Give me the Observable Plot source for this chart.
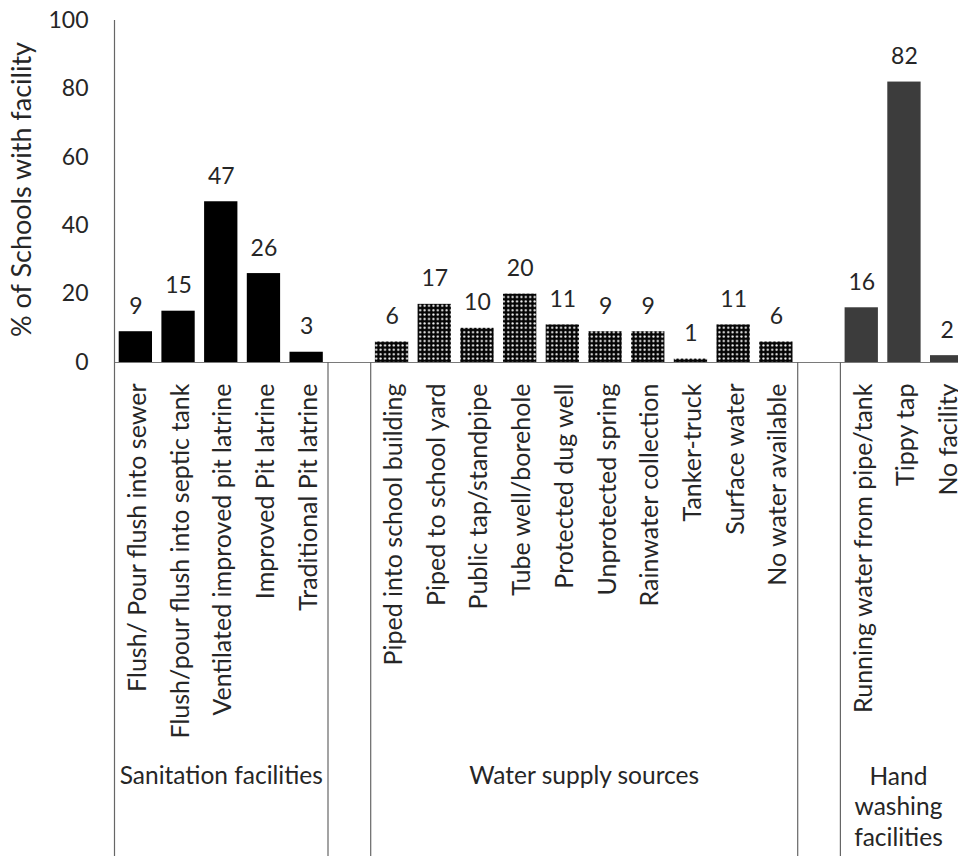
<!DOCTYPE html>
<html><head><meta charset="utf-8">
<script src="https://cdn.jsdelivr.net/npm/d3@7"></script>
<script src="https://cdn.jsdelivr.net/npm/@observablehq/plot@0.6"></script>
<style>body{margin:0;background:#fff}</style>
</head><body><div id="chart"></div>
<script>
const sanitationCats = ["Flush/ Pour flush into sewer","Flush/pour flush into septic tank","Ventilated improved pit latrine","Improved Pit latrine","Traditional Pit latrine"];
const sanitationValues = [9,15,47,26,3];
const waterCats = ["Piped into school building","Piped to school yard","Public tap/standpipe","Tube well/borehole","Protected dug well","Unprotected spring","Rainwater collection","Tanker-truck","Surface water","No water available"];
const waterValues = [6,17,10,20,11,9,9,1,11,6];
const handCats = ["Running water from pipe/tank","Tippy tap","No facility"];
const handValues = [16,82,2];
const groupNames = ["Sanitation facilities","Water supply sources","Hand\nwashing\nfacilities"];
const yTicks = [0,20,40,60,80,100];
const yLabel = "% of Schools with facility";

const gap1 = " ", gap2 = "  ";
const domain = [...sanitationCats, gap1, ...waterCats, gap2, ...handCats];
const sanRows = sanitationCats.map((c,i)=>({cat:c, value:sanitationValues[i]}));
const watRows = waterCats.map((c,i)=>({cat:c, value:waterValues[i]}));
const hanRows = handCats.map((c,i)=>({cat:c, value:handValues[i]}));
const rows = [...sanRows, ...watRows, ...hanRows];

const x0 = 114, x1 = 968;
const step = (x1 - x0) / domain.length;
const lineColor = "#666";
const textColor = "#262626";
const font = "Lato, 'Open Sans', sans-serif";

const chart = Plot.plot({
  width: 958, height: 856,
  marginTop: 20, marginBottom: 494, marginLeft: 114, marginRight: 0,
  style: {fontFamily: font, color: textColor, background: "#fff"},
  x: {type: "band", domain, range: [x0, x1], paddingInner: 0.22, paddingOuter: 0.11, round: false, axis: null},
  y: {domain: [0, 100], axis: null},
  marks: [
    Plot.axisY(yTicks, {tickSize: 0, tickPadding: 26, fontSize: 23, label: null, fill: textColor}),
    Plot.barY(sanRows, {x: "cat", y: "value", fill: "#000"}),
    Plot.barY(watRows, {x: "cat", y: "value", fill: "url(#dots)"}),
    Plot.barY(hanRows, {x: "cat", y: "value", fill: "#3c3c3c"}),
    Plot.text(rows, {x: "cat", y: "value", text: d => String(d.value), lineAnchor: "bottom", dy: -18, fontSize: 23, fill: textColor}),
    Plot.ruleY([0], {stroke: "#7a7a7a", strokeWidth: 1.2}),
    Plot.ruleX([sanitationCats[0]], {x: d => d, y1: 100, y2: -146, dx: -step/2, stroke: lineColor, strokeWidth: 1.2}),
    Plot.ruleX([waterCats[0], handCats[0]], {x: d => d, y1: 0, y2: -146, dx: -step/2, stroke: lineColor, strokeWidth: 1.2}),
    Plot.ruleX([sanitationCats[4], waterCats[9]], {x: d => d, y1: 0, y2: -146, dx: step/2, stroke: lineColor, strokeWidth: 1.2}),
    Plot.text(rows, {x: "cat", y: 0, text: "cat", rotate: -90, textAnchor: "end", lineAnchor: "middle", dy: 21, dx: 2, fontSize: 25, fill: textColor}),
    Plot.text([groupNames[0]], {x: () => sanitationCats[2], y: 0, text: d => d, lineAnchor: "top", dy: 404, fontSize: 24.5, fill: textColor}),
    Plot.text([groupNames[1]], {x: () => waterCats[4], y: 0, text: d => d, lineAnchor: "top", dx: step/2, dy: 404, fontSize: 24.5, fill: textColor}),
    Plot.text([groupNames[2]], {x: () => handCats[1], y: 0, text: d => d, lineAnchor: "top", dx: -6, dy: 401, lineHeight: 1.24, fontSize: 24.5, fill: textColor}),
    Plot.text([yLabel], {frameAnchor: "left", text: d => d, rotate: -90, textAnchor: "middle", lineAnchor: "middle", dx: -92, dy: -2, fontSize: 27, fill: textColor})
  ]
});

const svg = d3.select(chart);
const defs = svg.insert("defs", ":first-child");
const pat = defs.append("pattern").attr("id", "dots").attr("width", 4.4).attr("height", 4.4).attr("patternUnits", "userSpaceOnUse");
pat.append("rect").attr("width", 4.4).attr("height", 4.4).attr("fill", "#050505");
pat.append("circle").attr("cx", 2.2).attr("cy", 2.2).attr("r", 1.1).attr("fill", "#fff");
document.getElementById("chart").appendChild(chart);
</script>
</body></html>
